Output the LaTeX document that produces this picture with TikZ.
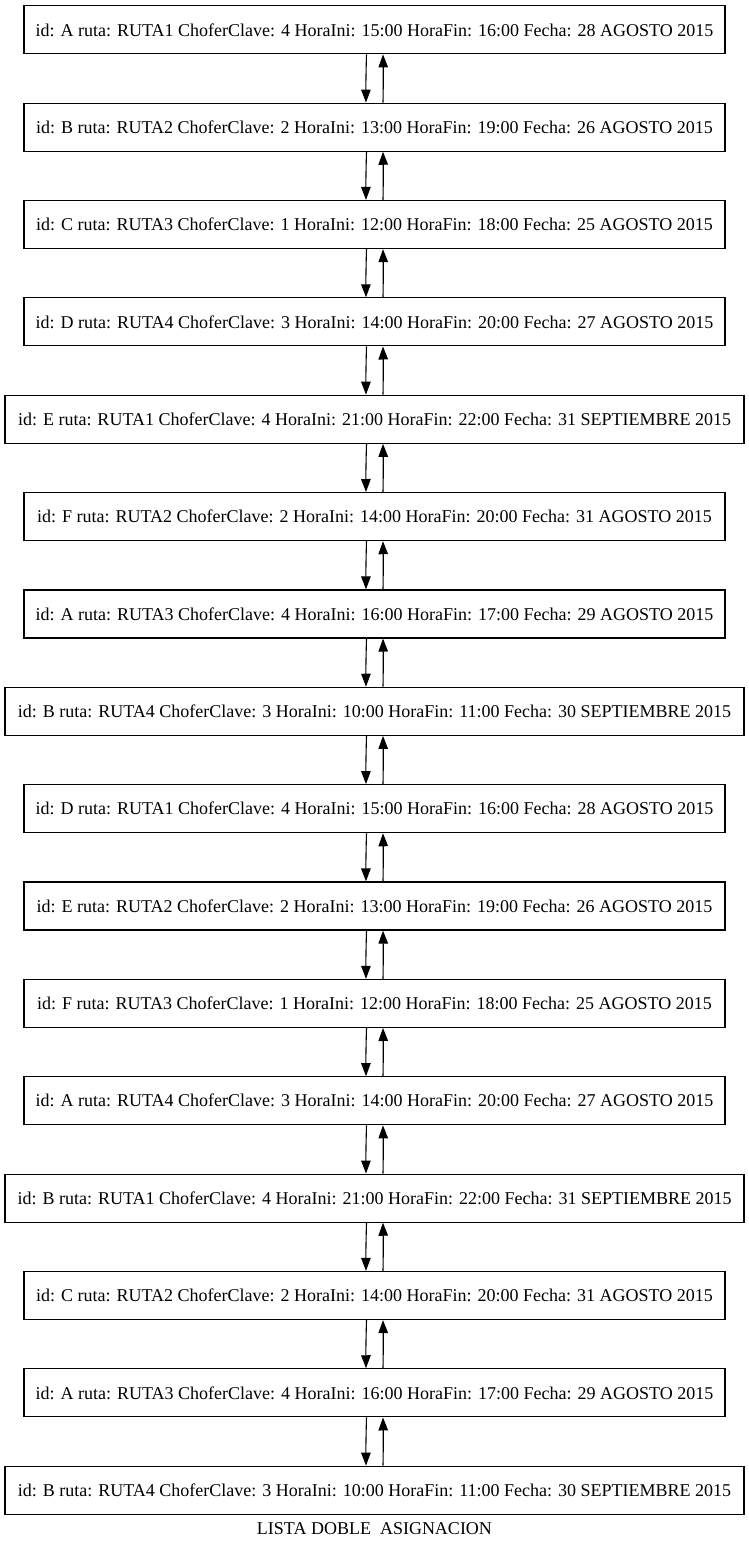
\documentclass[tikz,border=0pt]{standalone}
\usepackage{fontspec}
\setmainfont{Liberation Serif}
\usetikzlibrary{arrows.meta}
\begin{document}
\begin{tikzpicture}[x=1pt,y=-1pt,
  rec/.style={draw=black, line width=1.2pt, rectangle, minimum height=48pt, inner sep=0pt,
    font=\fontsize{18}{22}\selectfont},
  narrow/.style={rec, minimum width=701pt},
  wide/.style={rec, minimum width=739pt},
  arr/.style={line width=1.1pt, -{Triangle[length=13pt,width=9.5pt]}},
  title/.style={font=\fontsize{18}{22}\selectfont}]
\useasboundingbox (0,0) rectangle (749,1551);
\foreach \i/\id/\r/\c/\hi/\hf/\f/\w in {
  1/A/RUTA1/4/15:00/16:00/28 AGOSTO 2015/narrow,
  2/B/RUTA2/2/13:00/19:00/26 AGOSTO 2015/narrow,
  3/C/RUTA3/1/12:00/18:00/25 AGOSTO 2015/narrow,
  4/D/RUTA4/3/14:00/20:00/27 AGOSTO 2015/narrow,
  5/E/RUTA1/4/21:00/22:00/31 SEPTIEMBRE 2015/wide,
  6/F/RUTA2/2/14:00/20:00/31 AGOSTO 2015/narrow,
  7/A/RUTA3/4/16:00/17:00/29 AGOSTO 2015/narrow,
  8/B/RUTA4/3/10:00/11:00/30 SEPTIEMBRE 2015/wide,
  9/D/RUTA1/4/15:00/16:00/28 AGOSTO 2015/narrow,
  10/E/RUTA2/2/13:00/19:00/26 AGOSTO 2015/narrow,
  11/F/RUTA3/1/12:00/18:00/25 AGOSTO 2015/narrow,
  12/A/RUTA4/3/14:00/20:00/27 AGOSTO 2015/narrow,
  13/B/RUTA1/4/21:00/22:00/31 SEPTIEMBRE 2015/wide,
  14/C/RUTA2/2/14:00/20:00/31 AGOSTO 2015/narrow,
  15/A/RUTA3/4/16:00/17:00/29 AGOSTO 2015/narrow,
  16/B/RUTA4/3/10:00/11:00/30 SEPTIEMBRE 2015/wide}
{
  \pgfmathsetmacro\yy{29.8+97.36*(\i-1)}
  \node[\w] (n\i) at (374.5,\yy) {id: \id\ ruta: \r\ ChoferClave: \c\ HoraIni: \hi\ HoraFin: \hf\ Fecha: \f};
}
\foreach \i in {1,...,15}{
  \pgfmathtruncatemacro\j{\i+1}
  \draw[arr] ([xshift=-8pt]n\i.south) to[bend right=1] ([xshift=-8.5pt]n\j.north);
  \draw[arr] ([xshift=8.5pt]n\j.north) to[bend right=1] ([xshift=8.5pt]n\i.south);
}
\node[title] (t) at (374.5,1529) {LISTA DOBLE\ \ ASIGNACION};
\end{tikzpicture}
\end{document}
